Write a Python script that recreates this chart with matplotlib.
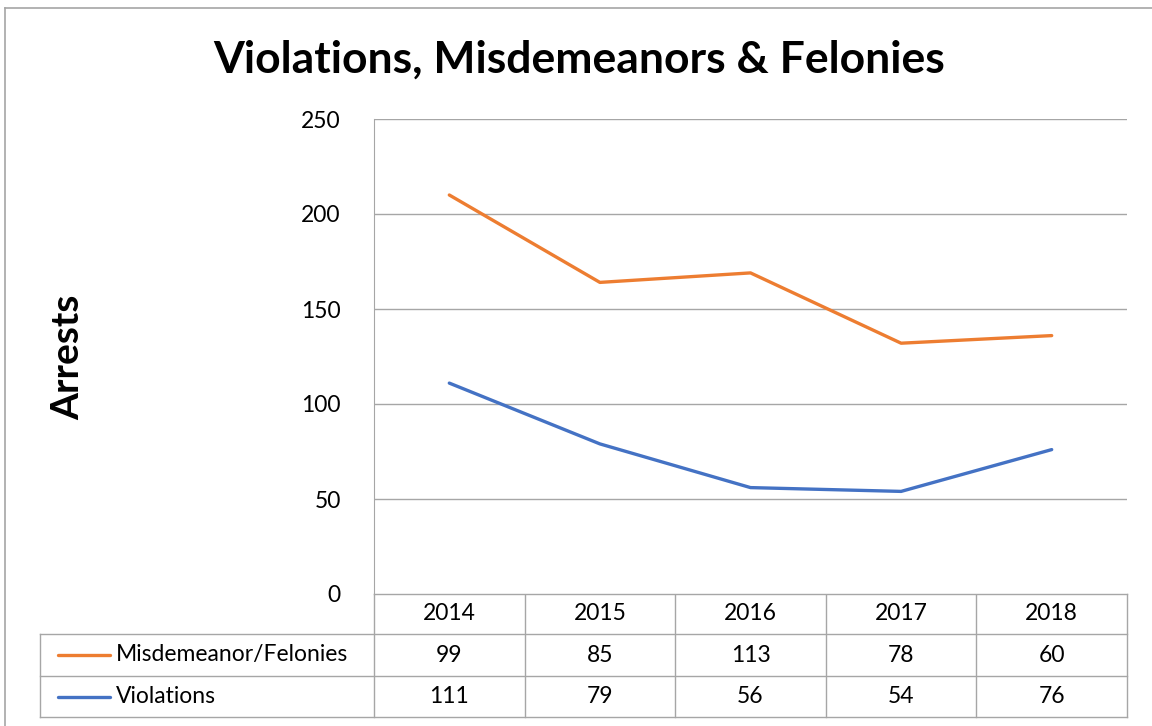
import matplotlib.pyplot as plt
import numpy as np

years = ['2014', '2015', '2016', '2017', '2018']
misdemeanor = [99, 85, 113, 78, 60]
violations = [111, 79, 56, 54, 76]
series_names = ['Misdemeanor/Felonies', 'Violations']
colors = ['#ED7D31', '#4472C4']

W, H = 1152, 726
FONT = 'Lato'
GRID = '#A6A6A6'
FS = 16.5


def fx(px):
    return px / W


def fy(py):
    return 1 - py / H


def main():
    fig = plt.figure(figsize=(W / 100, H / 100), dpi=100)

    # stacked line: top series = violations + misdemeanor
    stacked = np.array(violations) + np.array(misdemeanor)
    x = np.arange(len(years))

    left, right, top, bottom = 374, 1127, 119, 594
    ax = fig.add_axes([fx(left), fy(bottom), fx(right - left), fy(top) - fy(bottom)])
    ax.plot(x, stacked, color=colors[0], lw=2.4, solid_capstyle='round')
    ax.plot(x, violations, color=colors[1], lw=2.4, solid_capstyle='round')
    ax.set_xlim(-0.5, len(years) - 0.5)
    ax.set_ylim(0, 250)
    ax.set_yticks(range(0, 251, 50))
    ax.grid(axis='y', color=GRID, lw=1)
    ax.set_xticks([])
    ax.tick_params(axis='y', length=0, pad=24, labelsize=FS)
    for lab in ax.get_yticklabels():
        lab.set_fontfamily(FONT)
    for s in ['top', 'right', 'bottom']:
        ax.spines[s].set_visible(False)
    ax.spines['left'].set_color(GRID)

    # overlay for table, title and border (pixel coordinates)
    ov = fig.add_axes([0, 0, 1, 1], zorder=-1)
    ov.set_xlim(0, W)
    ov.set_ylim(H, 0)
    ov.axis('off')

    col_w = (right - left) / len(years)
    rows = [594, 634, 676, 717]
    # horizontal table lines
    ov.plot([left, right], [rows[0], rows[0]], color=GRID, lw=1)
    for r in rows[1:]:
        ov.plot([40, right], [r, r], color=GRID, lw=1)
    ov.plot([40, 40], [rows[1], rows[3]], color=GRID, lw=1)
    for i in range(len(years) + 1):
        xv = left + i * col_w
        ov.plot([xv, xv], [rows[0], rows[3]], color=GRID, lw=1)

    for i, yr in enumerate(years):
        cx = left + (i + 0.5) * col_w
        ov.text(cx, (rows[0] + rows[1]) / 2, yr, ha='center', va='center',
                fontsize=FS, family=FONT)
        ov.text(cx, (rows[1] + rows[2]) / 2, str(misdemeanor[i]), ha='center',
                va='center', fontsize=FS, family=FONT)
        ov.text(cx, (rows[2] + rows[3]) / 2, str(violations[i]), ha='center',
                va='center', fontsize=FS, family=FONT)

    for j, name in enumerate(series_names):
        cy = (rows[j + 1] + rows[j + 2]) / 2
        ov.plot([58, 110], [cy, cy], color=colors[j], lw=2.4, solid_capstyle='round')
        ov.text(116, cy, name, ha='left', va='center', fontsize=FS, family=FONT)

    # chart border
    ov.plot([5, W], [8, 8], color=GRID, lw=1.2)
    ov.plot([5, 5], [8, H], color=GRID, lw=1.2)

    ov.text(579, 60, 'Violations, Misdemeanors & Felonies', ha='center', va='center',
            fontsize=32, fontweight='bold', family=FONT)
    ov.text(68, 357, 'Arrests', ha='center', va='center', rotation=90,
            fontsize=28, fontweight='bold', family=FONT)

    fig.savefig('out.png', dpi=100)


if __name__ == "__main__":
    main()
